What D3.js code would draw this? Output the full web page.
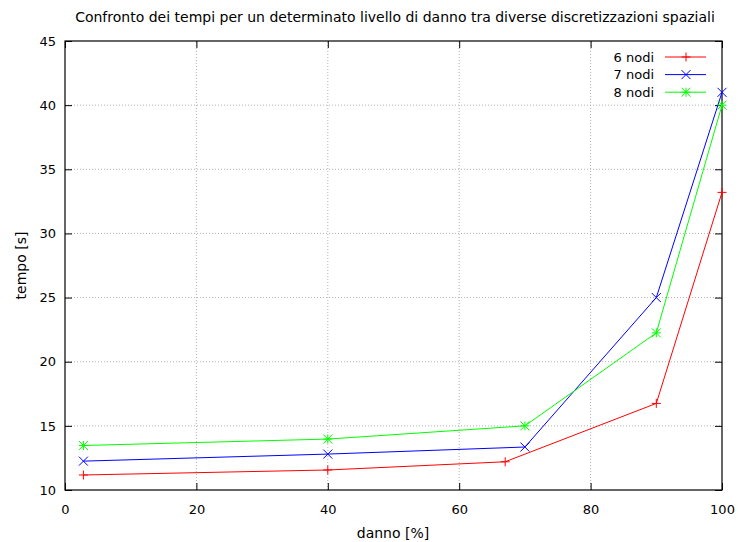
<!DOCTYPE html>
<html>
<head>
<meta charset="utf-8">
<script src="https://cdn.jsdelivr.net/npm/d3@7"></script>
<style>
  body { margin: 0; background: #fff; }
  svg { display: block; font-family: "DejaVu Sans", sans-serif; }
</style>
</head>
<body>
<svg id="chart" width="738" height="542"></svg>
<script>
// Damage level (%) and time (s) for each spatial discretisation
const danno6 = [2.8, 40, 67, 90, 100];
const tempo6 = [11.17, 11.56, 12.2, 16.75, 33.2];
const danno7 = [2.8, 40, 70, 90, 100];
const tempo7 = [12.25, 12.8, 13.35, 25.0, 41.0];
const danno8 = [2.8, 40, 70, 90, 100];
const tempo8 = [13.47, 13.97, 15.0, 22.25, 40.0];

const seriesNames = ["6 nodi", "7 nodi", "8 nodi"];
const xTicks = [0, 20, 40, 60, 80, 100];
const yTicks = [10, 15, 20, 25, 30, 35, 40, 45];

const titleText = "Confronto dei tempi per un determinato livello di danno tra diverse discretizzazioni spaziali";
const xLabel = "danno [%]";
const yLabel = "tempo [s]";

const series = [
  { name: seriesNames[0], x: danno6, y: tempo6, color: "#ff0000", marker: "plus" },
  { name: seriesNames[1], x: danno7, y: tempo7, color: "#0000ff", marker: "cross" },
  { name: seriesNames[2], x: danno8, y: tempo8, color: "#00ff00", marker: "star" }
];

const svg = d3.select("#chart");
const margin = { left: 65, right: 16, top: 41, bottom: 52 };
const W = 738, H = 542;
const x = d3.scaleLinear().domain([0, 100]).range([margin.left, W - margin.right]);
const y = d3.scaleLinear().domain([10, 45]).range([H - margin.bottom, margin.top]);
const x0 = x.range()[0], x1 = x.range()[1], y0 = y.range()[0], y1 = y.range()[1];

// Grid (dotted)
const grid = svg.append("g").attr("stroke", "#a0a0a0").attr("stroke-width", 0.8).attr("stroke-dasharray", "1,2");
grid.selectAll("line.gx").data(xTicks.slice(1, -1)).join("line")
  .attr("x1", d => x(d)).attr("x2", d => x(d)).attr("y1", y0).attr("y2", y1);
grid.selectAll("line.gy").data(yTicks.slice(1, -1)).join("line")
  .attr("y1", d => y(d)).attr("y2", d => y(d)).attr("x1", x0).attr("x2", x1);

// Axes with inward ticks, mirrored on top and right
const tickLen = 7;
const axB = d3.axisBottom(x).tickValues(xTicks).tickSizeInner(-tickLen).tickSizeOuter(0).tickPadding(15);
const axL = d3.axisLeft(y).tickValues(yTicks).tickSizeInner(-tickLen).tickSizeOuter(0).tickPadding(9);
const axT = d3.axisTop(x).tickValues(xTicks).tickSizeInner(-tickLen).tickSizeOuter(0).tickFormat("");
const axR = d3.axisRight(y).tickValues(yTicks).tickSizeInner(-tickLen).tickSizeOuter(0).tickFormat("");

function styleAxis(g) {
  g.select(".domain").remove();
  g.selectAll(".tick line").attr("stroke", "#000").attr("stroke-width", 1);
  g.selectAll(".tick text").attr("font-size", 13).attr("fill", "#000").attr("font-family", "DejaVu Sans, sans-serif");
}
svg.append("g").attr("transform", `translate(0,${y0})`).call(axB).call(styleAxis);
svg.append("g").attr("transform", `translate(${x0},0)`).call(axL).call(styleAxis);
svg.append("g").attr("transform", `translate(0,${y1})`).call(axT).call(styleAxis);
svg.append("g").attr("transform", `translate(${x1},0)`).call(axR).call(styleAxis);

// Border
svg.append("rect").attr("x", x0).attr("y", y1).attr("width", x1 - x0).attr("height", y0 - y1)
  .attr("fill", "none").attr("stroke", "#000").attr("stroke-width", 1.2);

// Marker shapes
const ms = 4.5;
function drawMarker(g, cx, cy, type, color) {
  const segs = [];
  if (type === "plus" || type === "star") { segs.push([-ms, 0, ms, 0], [0, -ms, 0, ms]); }
  if (type === "cross" || type === "star") { segs.push([-ms, -ms, ms, ms], [-ms, ms, ms, -ms]); }
  segs.forEach(s => g.append("line")
    .attr("x1", cx + s[0]).attr("y1", cy + s[1]).attr("x2", cx + s[2]).attr("y2", cy + s[3])
    .attr("stroke", color).attr("stroke-width", 1));
}

// Series lines and points
const line = d3.line().x(d => x(d[0])).y(d => y(d[1]));
series.forEach(s => {
  const pts = s.x.map((v, i) => [v, s.y[i]]);
  const g = svg.append("g");
  g.append("path").attr("d", line(pts)).attr("fill", "none").attr("stroke", s.color).attr("stroke-width", 1);
  pts.forEach(p => drawMarker(g, x(p[0]), y(p[1]), s.marker, s.color));
});

// Legend
series.forEach((s, i) => {
  const ly = 57 + i * 17.6;
  const g = svg.append("g");
  g.append("text").attr("x", 654).attr("y", ly).attr("dy", "0.35em").attr("text-anchor", "end")
    .attr("font-size", 13).text(s.name);
  g.append("line").attr("x1", 665).attr("x2", 706).attr("y1", ly).attr("y2", ly)
    .attr("stroke", s.color).attr("stroke-width", 1);
  drawMarker(g, 686, ly, s.marker, s.color);
});

// Titles
svg.append("text").attr("x", 395).attr("y", 22).attr("text-anchor", "middle").attr("font-size", 14).text(titleText);
svg.append("text").attr("x", 393).attr("y", 538).attr("text-anchor", "middle").attr("font-size", 14).text(xLabel);
svg.append("text").attr("transform", `translate(26,${(y0 + y1) / 2}) rotate(-90)`).attr("text-anchor", "middle")
  .attr("font-size", 14).text(yLabel);
</script>
</body>
</html>
